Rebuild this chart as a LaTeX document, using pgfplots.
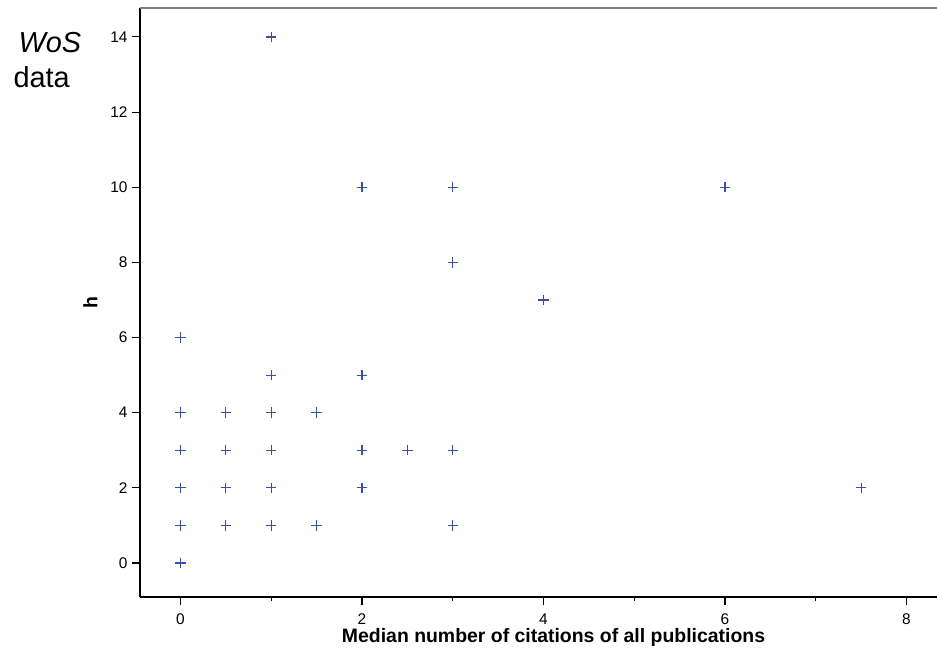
\documentclass[border=0pt]{standalone}
\usepackage{pgfplots}
\pgfplotsset{compat=1.18}
\usepackage{fontspec}
\setmainfont{Liberation Sans}
\definecolor{markblue}{RGB}{55,80,175}
\newcommand{\tl}{\fontsize{15.5}{18}\selectfont}
\begin{document}
\begin{tikzpicture}[x=1bp,y=1bp]
\useasboundingbox (0,0) rectangle (937,657);
\begin{axis}[
  at={(140bp,60bp)}, anchor=south west,
  scale only axis,
  width=797bp, height=589bp,
  xmin=-0.446, xmax=8.336,
  ymin=-0.905, ymax=14.77,
  axis x line*=bottom, axis y line*=left,
  axis line style={black, line width=1.3pt, -},
  xtick={0,2,4,6,8}, minor xtick={1,3,5,7},
  xticklabels={{\tl 0},{\tl 2},{\tl 4},{\tl 6},{\tl 8}},
  ytick={0,2,4,6,8,10,12,14},
  yticklabels={{\tl 0},{\tl 2},{\tl 4},{\tl 6},{\tl 8},{\tl 10},{\tl 12},{\tl 14}},
  tick align=outside,
  major tick length=8bp, minor tick length=4bp,
  every tick/.style={black, line width=1.1pt},
  xticklabel style={yshift=-5bp},
  yticklabel style={xshift=-1bp},
  xlabel={\textbf{Median number of citations of all publications}},
  ylabel={\textbf{h}},
  label style={font=\fontsize{19.5}{22}\selectfont},
  xlabel style={yshift=3bp, xshift=15bp},
  ylabel style={yshift=6bp},
  clip=false,
]
\addplot[only marks, mark=+, mark size=5.2bp, color=markblue, mark options={draw=markblue, line width=1.2pt}] coordinates {
(0,0) (0,0) (0,1) (0,1) (0,2) (0,2) (0,3) (0,4) (0,6)
(0.5,1) (0.5,1) (0.5,2) (0.5,3) (0.5,4)
(1,1) (1,1) (1,2) (1,3) (1,4) (1,5) (1,14)
(1.5,1) (1.5,4)
(2,2) (2,2) (2,3) (2,5) (2,10)
(2.5,3)
(3,1) (3,3) (3,8) (3,10)
(4,7)
(6,10)
(7.5,2)
};
\draw[gray, line width=1.4pt] (rel axis cs:0,1) -- (rel axis cs:1,1);
\end{axis}
\node[anchor=base west, font=\fontsize{29}{33}\selectfont\itshape] at (15,604) {WoS};
\node[anchor=base west, font=\fontsize{29}{33}\selectfont] at (10,569) {data};
\end{tikzpicture}
\end{document}
